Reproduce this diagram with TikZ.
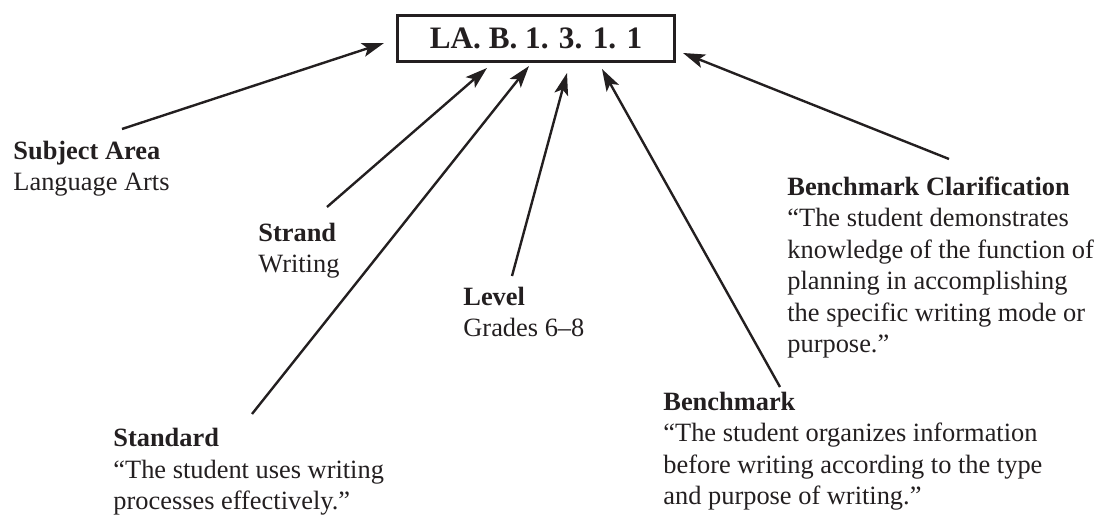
\documentclass[tikz,border=0pt]{standalone}
\usepackage{fontspec}
\setmainfont{Liberation Serif}
\usepackage{xcolor}
\usetikzlibrary{arrows.meta, positioning, calc}
\definecolor{ink}{HTML}{231F20}

\begin{document}
\begin{tikzpicture}[x=0.5pt, y=-0.5pt, >={Stealth[length=11pt, width=7pt, inset=2.5pt]}, color=ink,
    label/.style={anchor=base west, inner sep=0pt, align=left, font=\fontsize{13.2}{15.75}\selectfont},
    pointer/.style={->, line width=1.2pt}]
    \useasboundingbox (0,0) rectangle (1104,517);
    % 1. Code box
    \node[draw, line width=1.5pt, minimum width=138.5pt, minimum height=23pt, inner sep=0pt,
          font=\fontsize{15.6}{18}\selectfont\bfseries] (code) at (536,38.5) {LA. B. 1. 3. 1. 1};
    % 2. Labels (placed at the baseline of their last line)
    \node[label] (subj) at (13,191) {\textbf{Subject Area}\\Language Arts};
    \node[label] (strand) at (258,273) {\textbf{Strand}\\Writing};
    \node[label] (level) at (463,337) {\textbf{Level}\\Grades 6–8};
    \node[label] (standard) at (113,510) {\textbf{Standard}\\“The student uses writing\\processes effectively.”};
    \node[label] (bench) at (663,505) {\textbf{Benchmark}\\“The student organizes information\\before writing according to the type\\and purpose of writing.”};
    \node[label] (clar) at (787,353) {\textbf{Benchmark Clarification}\\“The student demonstrates\\knowledge of the function of\\planning in accomplishing\\the specific writing mode or\\purpose.”};
    % 3. Arrow ends
    \coordinate (subj-from) at (122,129);     \coordinate (subj-to) at (384,43);
    \coordinate (strand-from) at (327,207);   \coordinate (strand-to) at (487,68);
    \coordinate (standard-from) at (252,414); \coordinate (standard-to) at (529,66);
    \coordinate (level-from) at (512,276);    \coordinate (level-to) at (567,73);
    \coordinate (bench-from) at (780,387);    \coordinate (bench-to) at (602,69);
    \coordinate (clar-from) at (949,159);     \coordinate (clar-to) at (683,53);
    % 4. Arrows
    \foreach \n in {subj, strand, standard, level, bench, clar} {
        \draw[pointer] (\n-from) -- (\n-to);
    }
\end{tikzpicture}
\end{document}
